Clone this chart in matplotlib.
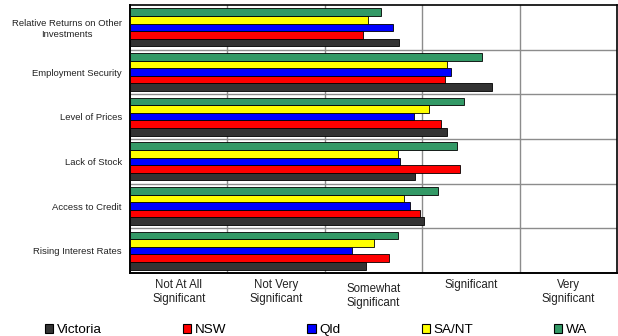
import matplotlib.pyplot as plt
import matplotlib.transforms as mtransforms
from matplotlib.patches import Patch
import numpy as np

plt.rcParams['font.family'] = ['Liberation Sans', 'DejaVu Sans']

factors = ['Relative Returns on Other\nInvestments', 'Employment Security',
           'Level of Prices', 'Lack of Stock', 'Access to Credit',
           'Rising Interest Rates']
scale_labels = ['Not At All\nSignificant', 'Not Very\nSignificant',
                'Somewhat\nSignificant', 'Significant', 'Very\nSignificant']

states = ['Victoria', 'NSW', 'Qld', 'SA/NT', 'WA']
victoria = [2.76, 3.72, 3.25, 2.93, 3.02, 2.42]
nsw = [2.39, 3.23, 3.19, 3.39, 2.98, 2.66]
qld = [2.70, 3.30, 2.92, 2.77, 2.87, 2.28]
sant = [2.44, 3.25, 3.07, 2.75, 2.81, 2.50]
wa = [2.58, 3.61, 3.43, 3.36, 3.16, 2.75]

colors = ['#333333', '#ff0000', '#0000ff', '#ffff00', '#339966']

fig = plt.figure(figsize=(6.18, 3.36), dpi=100)
ax = fig.add_axes([130 / 618, 1 - 273 / 336, 487 / 618, 268 / 336])

y = np.arange(len(factors))
h = 0.17
series = [victoria, nsw, qld, sant, wa]
# WA sits at the top of each group, Victoria at the bottom
for k, (vals, col, name) in enumerate(zip(series, colors, states)):
    ax.barh(y + (2 - k) * h, vals, height=h, color=col, edgecolor='black',
            linewidth=0.6, label=name, zorder=3)

ax.set_xlim(0, 5)
ax.set_ylim(len(factors) - 0.5, -0.5)

ax.set_yticks(y)
ax.set_yticks(np.arange(len(factors) - 1) + 0.5, minor=True)
ax.set_xticks(np.arange(5) + 0.5)
ax.set_xticks(np.arange(1, 5), minor=True)

ax.tick_params(axis='both', which='both', length=0)
ax.tick_params(axis='x', pad=4)
ax.tick_params(axis='y', labelleft=False)

# category names: measure each block, then centre it so its right edge
# lands 8 px left of the axis and wrapped lines are centred on each other
renderer = fig.canvas.get_renderer()
for pos, name in zip(y, factors):
    t = ax.text(0, pos, name, transform=ax.get_yaxis_transform(), ha='center',
                va='center_baseline', fontsize=6.8, color='#222222',
                linespacing=1.3)
    w = t.get_window_extent(renderer).width
    off = mtransforms.ScaledTranslation(-(8 + w / 2) / fig.dpi, 0,
                                        fig.dpi_scale_trans)
    t.set_transform(ax.get_yaxis_transform() + off)

xlabels = ax.set_xticklabels(scale_labels, fontsize=8.3, color='#222222',
                             linespacing=1.3)

# the middle label sits a little lower than its neighbours
shift = mtransforms.ScaledTranslation(0, -3 / 72, fig.dpi_scale_trans)
xlabels[2].set_transform(xlabels[2].get_transform() + shift)

ax.grid(True, which='minor', color='#8c8c8c', linewidth=1.0, zorder=0)
ax.grid(False, which='major')

for side in ['left', 'bottom']:
    ax.spines[side].set_linewidth(1.4)
for side in ['top', 'right']:
    ax.spines[side].set_linewidth(1.2)

handles = [Patch(facecolor=c, edgecolor='black', linewidth=0.8) for c in colors]
fig.legend(handles, states, loc='center', bbox_to_anchor=(0.512, 1 - 330 / 336),
           ncol=5, frameon=False, fontsize=9.7, handlelength=0.6,
           handleheight=0.6, handletextpad=0.3, columnspacing=6.0,
           borderpad=0.1)

fig.savefig('out.png', dpi=100)
